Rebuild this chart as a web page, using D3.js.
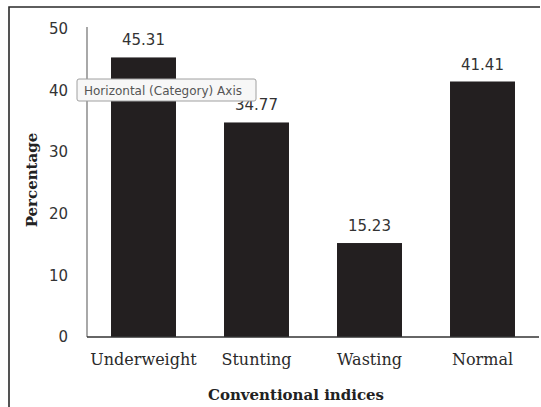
<!DOCTYPE html>
<html>
<head>
<meta charset="utf-8">
<script src="https://cdn.jsdelivr.net/npm/d3@7"></script>
<style>
  html, body { margin: 0; padding: 0; background: #fff; }
  svg { display: block; }
</style>
</head>
<body>
<svg id="chart" width="541" height="407"></svg>
<script>
// Prevalence of malnutrition by conventional indices (%)
const categories = ["Underweight", "Stunting", "Wasting", "Normal"];
const values = [45.31, 34.77, 15.23, 41.41];
const yTicks = [0, 10, 20, 30, 40, 50];

const svg = d3.select("#chart");
const margin = { left: 87, right: 2, top: 28, bottom: 70 };
const W = 541, H = 407;

// outer chart frame (top and left edges visible)
svg.append("path")
  .attr("d", `M9,${H} L9,7 L540,7`)
  .attr("fill", "none")
  .attr("stroke", "#2a2a2a")
  .attr("stroke-width", 1.6);

const x = d3.scaleBand()
  .domain(categories)
  .range([margin.left, W - margin.right])
  .paddingInner(0.425)
  .paddingOuter(0.2125);

const y = d3.scaleLinear()
  .domain([0, 50])
  .range([337, 28.5]);

// bars
svg.append("g").selectAll("rect")
  .data(values)
  .join("rect")
  .attr("x", (d, i) => x(categories[i]))
  .attr("y", d => y(d))
  .attr("width", x.bandwidth())
  .attr("height", d => y(0) - y(d))
  .attr("fill", "#231f20");

// y axis
const yAxis = svg.append("g")
  .attr("transform", `translate(${margin.left},0)`)
  .call(d3.axisLeft(y).tickValues(yTicks).tickSize(0).tickPadding(19));
yAxis.select(".domain").attr("stroke", "#7a7a7a").attr("stroke-width", 1.3)
  .attr("d", `M0,27V${y(0)}`);
yAxis.selectAll("text")
  .attr("font-family", "DejaVu Sans")
  .attr("font-size", 15)
  .attr("fill", "#333");

// x axis
const xAxis = svg.append("g")
  .attr("transform", `translate(0,${y(0)})`)
  .call(d3.axisBottom(x).tickSize(0).tickPadding(17));
xAxis.select(".domain").attr("stroke", "#333").attr("stroke-width", 1.3)
  .attr("d", `M${margin.left},0H539`);
xAxis.selectAll("text")
  .attr("font-family", "DejaVu Serif")
  .attr("font-size", 16)
  .attr("fill", "#2a2a2a");

// value labels
svg.append("g").selectAll("text")
  .data(values)
  .join("text")
  .attr("x", (d, i) => x(categories[i]) + x.bandwidth() / 2)
  .attr("y", d => y(d) - 12)
  .attr("text-anchor", "middle")
  .attr("font-family", "DejaVu Sans")
  .attr("font-size", 15)
  .attr("fill", "#333")
  .text(d => d.toFixed(2));

// axis titles
svg.append("text")
  .attr("transform", "translate(37,180) rotate(-90)")
  .attr("text-anchor", "middle")
  .attr("font-family", "DejaVu Serif")
  .attr("font-weight", "bold")
  .attr("font-size", 15)
  .attr("fill", "#222")
  .text("Percentage");

svg.append("text")
  .attr("x", 296)
  .attr("y", 400)
  .attr("text-anchor", "middle")
  .attr("font-family", "DejaVu Serif")
  .attr("font-weight", "bold")
  .attr("font-size", 15)
  .attr("fill", "#222")
  .text("Conventional indices");

// hover tooltip over the category axis
const tip = svg.append("g").attr("transform", "translate(77,79)");
tip.append("rect")
  .attr("width", 179).attr("height", 22).attr("rx", 2)
  .attr("fill", "#f7f7f7")
  .attr("stroke", "#a0a0a0")
  .attr("stroke-width", 1);
tip.append("text")
  .attr("x", 7).attr("y", 15.5)
  .attr("font-family", "DejaVu Sans")
  .attr("font-size", 12)
  .attr("fill", "#555")
  .text("Horizontal (Category) Axis");
</script>
</body>
</html>
